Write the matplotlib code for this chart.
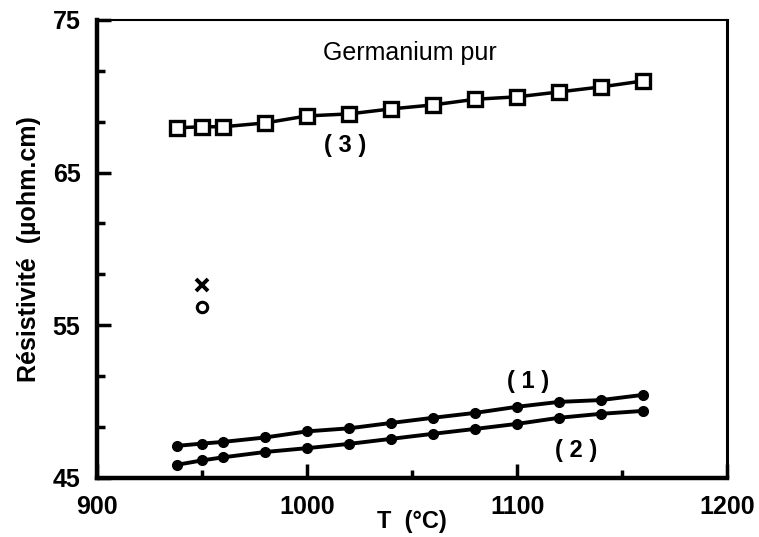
import numpy as np
import matplotlib.pyplot as plt
from matplotlib.ticker import MultipleLocator, FixedLocator

plt.rcParams['font.family'] = ['Liberation Sans', 'DejaVu Sans']

T = [938, 950, 960, 980, 1000, 1020, 1040, 1060, 1080, 1100, 1120, 1140, 1160]
rho_3 = [67.93, 68.0, 68.0, 68.25, 68.71, 68.84, 69.17, 69.43, 69.8, 69.96, 70.28, 70.61, 71.0]
rho_1 = [47.10, 47.25, 47.36, 47.65, 48.05, 48.25, 48.6, 48.94, 49.26, 49.66, 49.98, 50.1, 50.44]
rho_2 = [45.86, 46.15, 46.35, 46.7, 46.95, 47.23, 47.56, 47.89, 48.21, 48.54, 48.94, 49.2, 49.39]
x_T, x_rho = 950, 57.65
o_T, o_rho = 950, 56.2

fig = plt.figure(figsize=(7.59, 5.37), dpi=100)
ax = fig.add_axes([0.128, 0.110, 0.830, 0.853])

ax.plot(T, rho_3, color='black', lw=2.5, marker='s', ms=9.5, mfc='white', mec='black', mew=2.4)
ax.plot(T, rho_1, color='black', lw=2.8, marker='o', ms=7)
ax.plot(T, rho_2, color='black', lw=2.8, marker='o', ms=7)
ax.plot([x_T], [x_rho], marker='x', color='black', ms=8, mew=2.8, ls='none')
ax.plot([o_T], [o_rho], marker='o', mfc='white', mec='black', ms=7.5, mew=2.2, ls='none')

ax.text(1049, 72.8, 'Germanium pur', fontsize=18, ha='center', va='center')
ax.text(1018, 66.8, '( 3 )', fontsize=17, fontweight='bold', ha='center', va='center')
ax.text(1105, 51.3, '( 1 )', fontsize=17, fontweight='bold', ha='center', va='center')
ax.text(1128, 46.8, '( 2 )', fontsize=17, fontweight='bold', ha='center', va='center')

ax.set_xlim(900, 1200)
ax.set_ylim(45, 75)
ax.set_xticks([900, 1000, 1100, 1200])
ax.set_yticks([45, 55, 65, 75])
ax.xaxis.set_minor_locator(MultipleLocator(50))
ax.yaxis.set_minor_locator(FixedLocator([45 + 10 * k / 3 for k in range(10)]))
ax.tick_params(which='both', direction='in', width=2.5, top=False, right=False)
ax.tick_params(which='major', length=10, labelsize=18)
ax.tick_params(axis='x', which='major', pad=12)
ax.tick_params(axis='y', which='major', pad=12)
ax.tick_params(which='minor', length=6)
for lab in ax.get_xticklabels() + ax.get_yticklabels():
    lab.set_fontweight('bold')

ax.spines['left'].set_linewidth(3.2)
ax.spines['bottom'].set_linewidth(3.2)
ax.spines['right'].set_linewidth(2.2)
ax.spines['top'].set_linewidth(1.5)

ax.set_xlabel('T  (°C)', fontsize=17, fontweight='bold', labelpad=-6)
ax.set_ylabel('Résistivité  (µohm.cm)', fontsize=18, fontweight='bold', labelpad=8)

fig.savefig('out.png', dpi=100)
